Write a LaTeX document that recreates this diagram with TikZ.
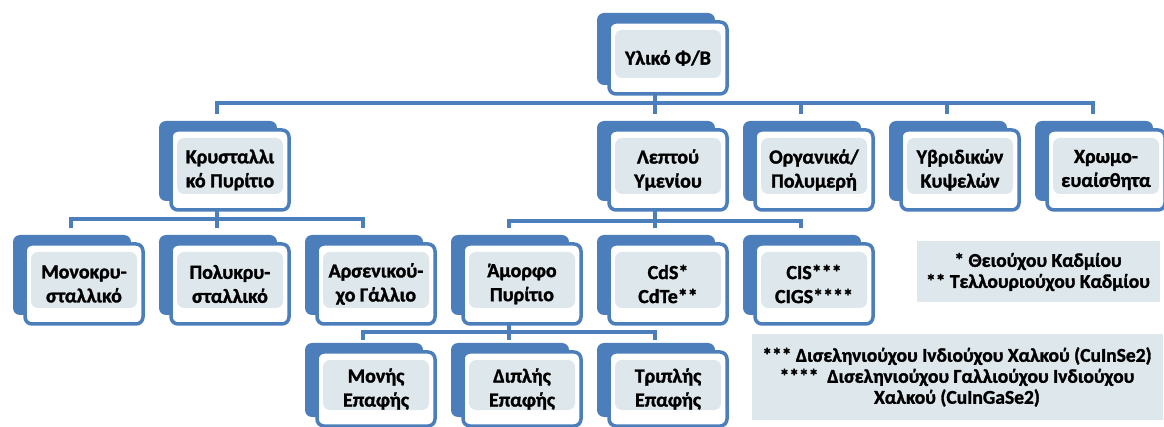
\documentclass[tikz,border=0pt]{standalone}
\usepackage{fontspec}
\setmainfont{Carlito}[BoldFont={Carlito Bold}, BoldFeatures={FakeBold=1.5}]
\usepackage{tikz}
\usetikzlibrary{positioning,shadows}

\definecolor{tabblue}{RGB}{76,126,187}
\definecolor{innerfill}{RGB}{222,231,236}

\begin{document}
\begin{tikzpicture}[
  x=1pt, y=1pt,
  catbox/.style={rectangle, draw=tabblue, line width=3.5pt, fill=white, rounded corners=7pt,
    minimum width=118pt, minimum height=80pt, outer sep=0pt, align=center,
    font=\bfseries\fontsize{20}{24}\selectfont,
    general shadow={fill=tabblue, shadow xshift=-12pt, shadow yshift=9pt},
    path picture={\fill[innerfill] ([shift={(6pt,16pt)}]path picture bounding box.south west)
      rectangle ([shift={(-6pt,-8pt)}]path picture bounding box.north east);}},
  notebox/.style={rectangle, fill=innerfill, align=center, inner sep=0pt,
    font=\bfseries\fontsize{19.5}{21}\selectfont},
  conn/.style={draw=tabblue, line width=3.5pt},
  node distance=34pt and 28pt
]
  \useasboundingbox (0,0) rectangle (1164,-427);

  \node[catbox, minimum height=72pt] (top) at (668,-58) {Υλικό Φ/Β};

  \node[catbox, below=36pt of top] (leptou) {Λεπτού\\Υμενίου};
  \node[catbox, right=of leptou] (organika) {Οργανικά/\\Πολυμερή};
  \node[catbox, right=of organika] (ybrid) {Υβριδικών\\Κυψελών};
  \node[catbox, right=of ybrid] (chromo) {Χρωμο-\\ευαίσθητα};
  \node[catbox, left=320pt of leptou] (kryst) {Κρυσταλλι\\κό Πυρίτιο};

  \node[catbox, below=of kryst] (polykry) {Πολυκρυ-\\σταλλικό};
  \node[catbox, left=of polykry] (monokry) {Μονοκρυ-\\σταλλικό};
  \node[catbox, right=of polykry] (arsen) {Αρσενικού-\\χο Γάλλιο};
  \node[catbox, right=of arsen] (amorfo) {Άμορφο\\Πυρίτιο};
  \node[catbox, below=of leptou] (cds) {CdS*\\CdTe**};
  \node[catbox, right=of cds] (cis) {CIS***\\CIGS****};

  \node[catbox, minimum height=74pt, below=28pt of amorfo] (diplis) {Διπλής\\Επαφής};
  \node[catbox, minimum height=74pt, left=of diplis] (monis) {Μονής\\Επαφής};
  \node[catbox, minimum height=74pt, right=of diplis] (triplis) {Τριπλής\\Επαφής};

  \node[notebox, minimum width=243pt, minimum height=61pt] (note1) at (1038,-272)
    {* Θειούχου Καδμίου\\** Τελλουριούχου Καδμίου};
  \node[notebox, minimum width=411pt, minimum height=85pt] (note2) at (957,-377)
    {*** Δισεληνιούχου Ινδιούχου Χαλκού (CuInSe2)\\****\ \ Δισεληνιούχου Γαλλιούχου Ινδιούχου\\Χαλκού (CuInGaSe2)};

  % connectors
  \draw[conn] ([xshift=-13pt]top.south) -- ++(0,-9pt) -| ([xshift=-13pt,yshift=16pt]kryst.north);
  \draw[conn] ([xshift=-13pt]top.south) -- ++(0,-9pt) -| ([xshift=-13pt,yshift=16pt]leptou.north);
  \draw[conn] ([xshift=-13pt]top.south) -- ++(0,-9pt) -| ([xshift=-13pt,yshift=16pt]organika.north);
  \draw[conn] ([xshift=-13pt]top.south) -- ++(0,-9pt) -| ([xshift=-13pt,yshift=16pt]ybrid.north);
  \draw[conn] ([xshift=-13pt]top.south) -- ++(0,-9pt) -| ([xshift=-13pt,yshift=16pt]chromo.north);

  \draw[conn] ([xshift=-13pt]kryst.south) -- ++(0,-9pt) -| ([xshift=-13pt,yshift=16pt]monokry.north);
  \draw[conn] ([xshift=-13pt]kryst.south) -- ++(0,-9pt) -| ([xshift=-13pt,yshift=16pt]polykry.north);
  \draw[conn] ([xshift=-13pt]kryst.south) -- ++(0,-9pt) -| ([xshift=-13pt,yshift=16pt]arsen.north);

  \draw[conn] ([xshift=-13pt]leptou.south) -- ++(0,-11pt) -| ([xshift=-13pt,yshift=16pt]amorfo.north);
  \draw[conn] ([xshift=-13pt]leptou.south) -- ++(0,-11pt) -| ([xshift=-13pt,yshift=16pt]cds.north);
  \draw[conn] ([xshift=-13pt]leptou.south) -- ++(0,-11pt) -| ([xshift=-13pt,yshift=16pt]cis.north);

  \draw[conn] ([xshift=-13pt]amorfo.south) -- ++(0,-8pt) -| ([xshift=-13pt,yshift=12pt]monis.north);
  \draw[conn] ([xshift=-13pt]amorfo.south) -- ++(0,-8pt) -| ([xshift=-13pt,yshift=12pt]diplis.north);
  \draw[conn] ([xshift=-13pt]amorfo.south) -- ++(0,-8pt) -| ([xshift=-13pt,yshift=12pt]triplis.north);
\end{tikzpicture}
\end{document}
